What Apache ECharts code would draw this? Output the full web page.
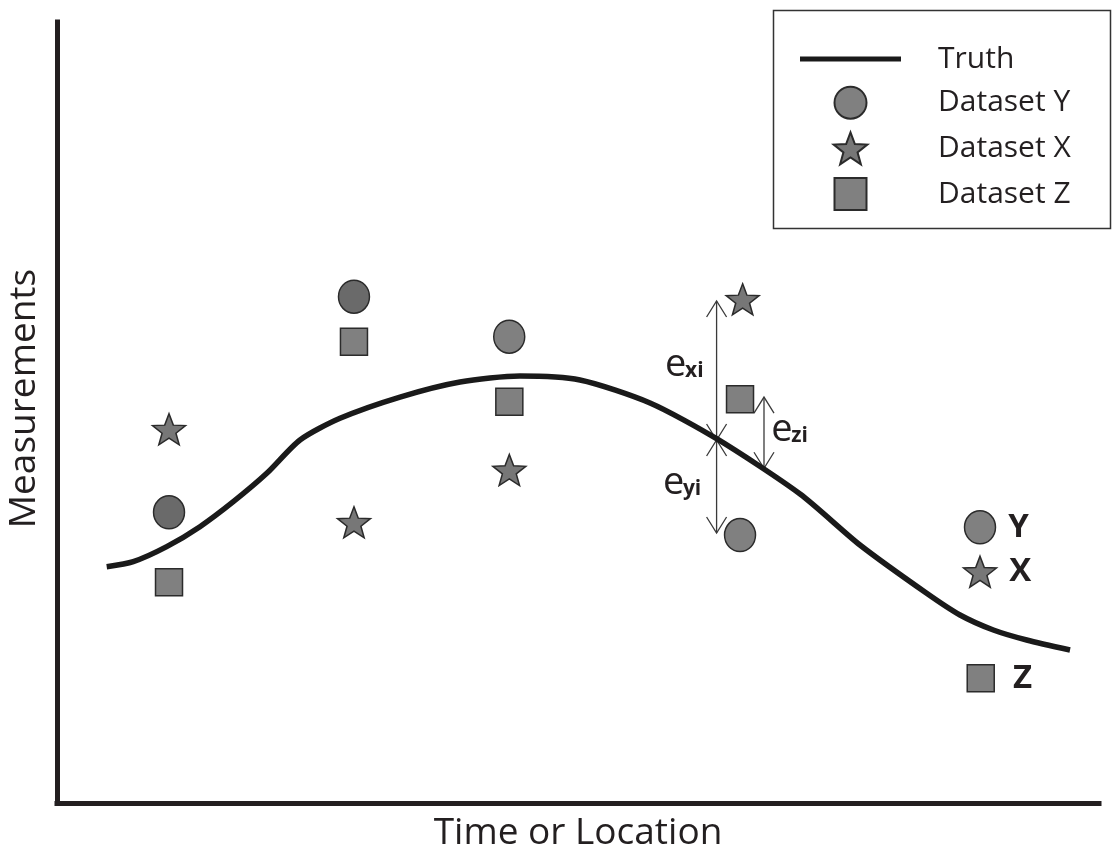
<!DOCTYPE html>
<html><head><meta charset="utf-8">
<script src="https://cdn.jsdelivr.net/npm/echarts@6/dist/echarts.min.js"></script>
<style>html,body{margin:0;padding:0;background:#fff}#c{width:1112px;height:848px}</style>
</head><body><div id="c"></div>
<script>
// ---- data (unitless: x = time/location 0..100, y = measurement 0..100) ----
const truthX = [4.77, 7.32, 10.53, 13.72, 16.92, 20.13, 23.32, 27.16, 32.92, 38.68, 44.43, 50.19, 56.91, 63.34, 71.31, 77.06, 83.46, 86.66, 89.86, 93.06, 97.22];
const truthY = [30.26, 30.90, 32.82, 35.38, 38.58, 42.21, 46.48, 49.26, 51.98, 53.91, 54.67, 54.16, 51.22, 46.61, 39.56, 33.03, 26.85, 24.07, 22.15, 20.87, 19.59];

const setYX = [10.75, 28.5, 43.4, 65.55, 88.58];
const setYY = [37.22, 64.83, 59.71, 34.31, 35.30];
const setXX = [10.75, 28.5, 43.41, 65.8, 88.58];
const setXY = [47.85, 35.94, 42.64, 64.49, 29.62];
const setZX = [10.75, 28.5, 43.41, 65.55, 88.65];
const setZY = [28.26, 59.07, 51.38, 51.69, 15.97];

const seriesNames = ['Truth', 'Dataset Y', 'Dataset X', 'Dataset Z'];
const shortNames = ['Y', 'X', 'Z'];

// error arrows: x, top end, bottom end
const arrowX = [63.3, 63.3, 67.85];
const arrowTop = [64.28, 46.48, 51.98];
const arrowBottom = [46.48, 34.57, 42.86];
// error labels: left x, baseline y, subscript
const errLabelX = [58.35, 68.55, 58.15];
const errLabelY = [54.61, 46.29, 39.56];
const errSubs = ['xi', 'zi', 'yi'];

// ---- styles ----
const FONT = "'Open Sans', 'Liberation Sans', sans-serif";
const INK = '#231f20';
const STAR = 'path://M50,2 L62.34,35.01 L97.55,36.55 L69.97,58.49 L79.39,92.45 L50,73 L20.61,92.45 L30.03,58.49 L2.45,36.55 L37.66,35.01 Z';
const SQUARE = 'path://M0,0 L10,0 L10,10 L0,10 Z';
const BAR = 'path://M0,0 L100,0 L100,5 L0,5 Z';
const darkCircleIdx = [0, 1];
const labelDist = [12, 12, 18];

function pts(xs, ys, seriesIdx, fillFn) {
  return xs.map((x, i) => {
    const item = { value: [x, ys[i]] };
    if (fillFn) { const f = fillFn(i); if (f) item.itemStyle = { color: f }; }
    if (i === xs.length - 1) {
      item.label = {
        show: true, position: 'right', distance: labelDist[seriesIdx],
        formatter: shortNames[seriesIdx], fontSize: 33, fontWeight: 'bold',
        fontFamily: FONT, color: INK
      };
    }
    return item;
  });
}

const chart = echarts.init(document.getElementById('c'), null, { renderer: 'canvas' });
chart.setOption({
  backgroundColor: '#fff',
  animation: false,
  grid: { left: 57, right: 13, top: 22, bottom: 45, outerBoundsMode: 'none', containLabel: false },
  xAxis: {
    type: 'value', min: 0, max: 100,
    axisLine: { show: true, lineStyle: { color: INK, width: 5, cap: 'square' } },
    axisTick: { show: false }, axisLabel: { show: false }, splitLine: { show: false },
    name: 'Time or Location', nameLocation: 'middle', nameGap: 12,
    nameTextStyle: { fontSize: 37, fontFamily: FONT, color: INK }
  },
  yAxis: {
    type: 'value', min: 0, max: 100,
    axisLine: { show: true, lineStyle: { color: INK, width: 5, cap: 'square' } },
    axisTick: { show: false }, axisLabel: { show: false }, splitLine: { show: false },
    name: 'Measurements', nameLocation: 'middle', nameGap: 14,
    nameTextStyle: { fontSize: 37, fontFamily: FONT, color: INK, padding: [0, 0, 0, 28] }
  },
  legend: {
    orient: 'vertical', left: 800, top: 44, padding: 0,
    itemWidth: 101, itemHeight: 32, itemGap: 11.7,
    data: [
      { name: seriesNames[0], icon: BAR },
      { name: seriesNames[1], icon: 'circle' },
      { name: seriesNames[2], icon: STAR },
      { name: seriesNames[3], icon: SQUARE }
    ],
    textStyle: { fontSize: 30, fontFamily: FONT, color: INK, padding: [0, 0, 0, 32] }
  },
  graphic: [{
    type: 'rect', shape: { x: 773.5, y: 10.5, width: 337, height: 218 },
    style: { fill: 'none', stroke: '#333', lineWidth: 1.5 }, z: 100
  }],
  series: [
    {
      name: 'Truth', type: 'line', showSymbol: false, symbol: 'none',
      smooth: 0.25,
      data: truthX.map((x, i) => [x, truthY[i]]),
      lineStyle: { color: '#1a1a1a', width: 5.5, cap: 'butt' },
      itemStyle: { color: '#1a1a1a' }, z: 3
    },
    {
      name: 'Dataset Y', type: 'scatter', symbol: 'circle', symbolSize: [31, 33],
      itemStyle: { color: '#808080', borderColor: '#2b2b2b', borderWidth: 1.5, opacity: 1 },
      data: pts(setYX, setYY, 0, i => darkCircleIdx.includes(i) ? '#6a6a6a' : null), z: 4
    },
    {
      name: 'Dataset X', type: 'scatter', symbol: STAR, symbolSize: [33, 31],
      itemStyle: { color: '#777777', borderColor: '#2b2b2b', borderWidth: 1.5, opacity: 1 },
      data: pts(setXX, setXY, 1), z: 4
    },
    {
      name: 'Dataset Z', type: 'scatter', symbol: 'rect', symbolSize: 27,
      itemStyle: { color: '#808080', borderColor: '#2b2b2b', borderWidth: 1.5, opacity: 1 },
      data: pts(setZX, setZY, 2), z: 4
    },
    {
      type: 'custom', silent: true, z: 2,
      data: arrowX.map((x, i) => [x, arrowTop[i], arrowBottom[i]]),
      encode: { x: 0, y: [1, 2] },
      renderItem: function (params, api) {
        const t = api.coord([api.value(0), api.value(1)]);
        const b = api.coord([api.value(0), api.value(2)]);
        const st = { stroke: '#3a3a3a', lineWidth: 1.3, fill: 'none' };
        const dx = 10, dy = 16;
        return {
          type: 'group', children: [
            { type: 'line', shape: { x1: t[0], y1: t[1], x2: b[0], y2: b[1] }, style: st },
            { type: 'polyline', shape: { points: [[t[0] - dx, t[1] + dy], t, [t[0] + dx, t[1] + dy]] }, style: st },
            { type: 'polyline', shape: { points: [[b[0] - dx, b[1] - dy], b, [b[0] + dx, b[1] - dy]] }, style: st }
          ]
        };
      }
    },
    {
      type: 'custom', silent: true, z: 5,
      data: errLabelX.map((x, i) => [x, errLabelY[i]]),
      encode: { x: 0, y: 1 },
      renderItem: function (params, api) {
        const p = api.coord([api.value(0), api.value(1)]);
        return {
          type: 'group', children: [
            { type: 'text', x: p[0], y: p[1] + 8,
              style: { text: 'e', fontSize: 38, fontFamily: FONT, fill: INK,
                       align: 'left', verticalAlign: 'bottom' } },
            { type: 'text', x: p[0] + 20, y: p[1] + 5,
              style: { text: errSubs[params.dataIndex], fontSize: 21, fontWeight: 'bold',
                       fontFamily: FONT, fill: INK, align: 'left', verticalAlign: 'bottom' } }
          ]
        };
      }
    }
  ]
});
</script>
</body></html>
